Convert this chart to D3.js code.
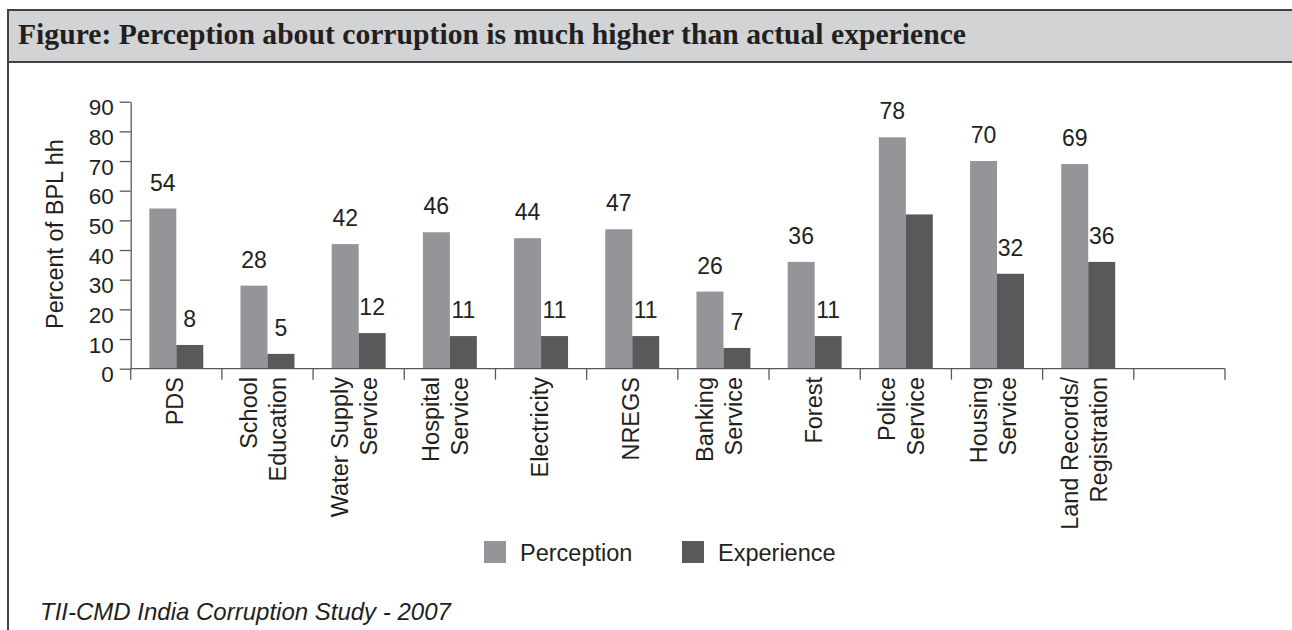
<!DOCTYPE html>
<html>
<head>
<meta charset="utf-8">
<script src="https://cdn.jsdelivr.net/npm/d3@7"></script>
<style>
  body { margin: 0; background: #fff; }
  svg { display: block; font-family: "Liberation Sans", Arial, sans-serif; }
</style>
</head>
<body>
<div id="chart"></div>
<script>
const WIDTH = 1292,
  HEIGHT = 630,
  TEXT = "#231f20",
  AXIS = "#58595b",
  title = "Figure: Perception about corruption is much higher than actual experience",
  source = "TII-CMD India Corruption Study - 2007",
  yTitle = "Percent of BPL hh",
  categories = ["PDS", "School\nEducation", "Water Supply\nService", "Hospital\nService", "Electricity", "NREGS",
    "Banking\nService", "Forest", "Police\nService", "Housing\nService", "Land Records/\nRegistration"],
  series = ["Perception", "Experience"],
  colors = ["#939598", "#58595b"],
  perception = [54, 28, 42, 46, 44, 47, 26, 36, 78, 70, 69],
  experience = [8, 5, 12, 11, 11, 11, 7, 11, 52, 32, 36],
  perceptionLabels = ["54", "28", "42", "46", "44", "47", "26", "36", "78", "70", "69"],
  experienceLabels = ["8", "5", "12", "11", "11", "11", "7", "11", "", "32", "36"],
  yTicks = [0, 10, 20, 30, 40, 50, 60, 70, 80, 90];

const svg = d3.select("#chart").append("svg")
  .attr("width", WIDTH)
  .attr("height", HEIGHT);

// frame + header band
svg.append("line")
  .attr("x1", 8).attr("x2", 8)
  .attr("y1", 10).attr("y2", HEIGHT + 5)
  .attr("stroke", "#414042")
  .attr("stroke-width", 2);

svg.append("rect")
  .attr("x", 8).attr("y", 10)
  .attr("width", WIDTH + 20).attr("height", 52)
  .attr("fill", "#d1d3d4")
  .attr("stroke", "#414042")
  .attr("stroke-width", 2);

svg.append("text")
  .attr("x", 18).attr("y", 44)
  .attr("font-family", "'Liberation Serif', 'Times New Roman', serif")
  .attr("font-weight", "bold")
  .attr("font-size", 30)
  .attr("textLength", 948)
  .attr("lengthAdjust", "spacingAndGlyphs")
  .attr("fill", TEXT)
  .text(title);

const x0 = d3.scaleBand()
    .domain(categories.concat([""]))
    .range([130.7, 1225]),
  x1 = d3.scaleBand()
    .domain(series)
    .range([0, x0.bandwidth()])
    .paddingOuter(0.69),
  y = d3.scaleLinear()
    .domain([0, 90])
    .range([368.7, 101.7]);

const rows = categories.map((c, i) => ({
  cat: c,
  values: [
    { key: series[0], value: perception[i], label: perceptionLabels[i] },
    { key: series[1], value: experience[i], label: experienceLabels[i] }
  ]
}));

// bars
const groups = svg.append("g")
  .selectAll("g")
  .data(rows)
  .enter()
  .append("g")
  .attr("transform", d => `translate(${x0(d.cat)},0)`);

groups.selectAll("rect")
  .data(d => d.values)
  .enter()
  .append("rect")
  .attr("x", d => x1(d.key))
  .attr("y", d => y(d.value))
  .attr("width", x1.bandwidth())
  .attr("height", d => y(0) - y(d.value))
  .attr("fill", (d, i) => colors[i]);

groups.selectAll("text")
  .data(d => d.values.filter(v => v.label !== ""))
  .enter()
  .append("text")
  .attr("x", d => x1(d.key) + x1.bandwidth() / 2)
  .attr("y", d => y(d.value) - 18)
  .attr("text-anchor", "middle")
  .attr("font-size", 23)
  .attr("fill", TEXT)
  .text(d => d.label);

// y axis
const yAxis = svg.append("g")
  .attr("transform", `translate(${x0.range()[0]},0)`)
  .call(d3.axisLeft(y).tickValues(yTicks).tickSize(11).tickPadding(6).tickSizeOuter(0));

yAxis.select(".domain").attr("stroke", AXIS).attr("stroke-width", 1.3);
yAxis.selectAll(".tick line").attr("stroke", AXIS).attr("stroke-width", 1.3);
yAxis.selectAll(".tick text")
  .attr("dy", "0.58em")
  .attr("font-size", 22.5)
  .attr("font-family", "'Liberation Sans', Arial, sans-serif")
  .attr("fill", TEXT);

svg.append("text")
  .attr("transform", "translate(63,234) rotate(-90)")
  .attr("text-anchor", "middle")
  .attr("font-size", 23.5)
  .attr("fill", TEXT)
  .text(yTitle);

// x axis: baseline + category boundary ticks
const xAxis = svg.append("g");
xAxis.append("line")
  .attr("x1", x0.range()[0]).attr("x2", x0.range()[1])
  .attr("y1", y(0)).attr("y2", y(0))
  .attr("stroke", AXIS)
  .attr("stroke-width", 1.3);

const bounds = x0.domain().map(d => x0(d)).concat([x0.range()[1]]);
xAxis.selectAll(".bound")
  .data(bounds)
  .enter()
  .append("line")
  .attr("x1", d => d).attr("x2", d => d)
  .attr("y1", y(0)).attr("y2", y(0) + 11)
  .attr("stroke", AXIS)
  .attr("stroke-width", 1.3);

const LINE = 29;
const labels = xAxis.selectAll(".cat")
  .data(categories)
  .enter()
  .append("g")
  .attr("transform", d => `translate(${x0(d) + x0.bandwidth() / 2},377) rotate(-90)`);

labels.each(function (d) {
  const lines = d.split("\n"),
    n = lines.length;
  d3.select(this).selectAll("text")
    .data(lines)
    .enter()
    .append("text")
    .attr("x", 0)
    .attr("y", (l, i) => (n > 1 ? 4 : 7) + (i - (n - 1) / 2) * LINE)
    .attr("text-anchor", "end")
    .attr("font-size", 23.5)
    .attr("fill", TEXT)
    .text(l => l);
});

// legend
const legend = svg.append("g")
  .selectAll("g")
  .data(series)
  .enter()
  .append("g")
  .attr("transform", (d, i) => `translate(${[484, 682][i]},541)`);

legend.append("rect")
  .attr("width", 22).attr("height", 22)
  .attr("fill", (d, i) => colors[i]);

legend.append("text")
  .attr("x", 36).attr("y", 19.7)
  .attr("font-size", 23.5)
  .attr("fill", TEXT)
  .text(d => d);

svg.append("text")
  .attr("x", 40).attr("y", 620)
  .attr("font-size", 24)
  .attr("font-style", "italic")
  .attr("fill", TEXT)
  .text(source);
</script>
</body>
</html>
